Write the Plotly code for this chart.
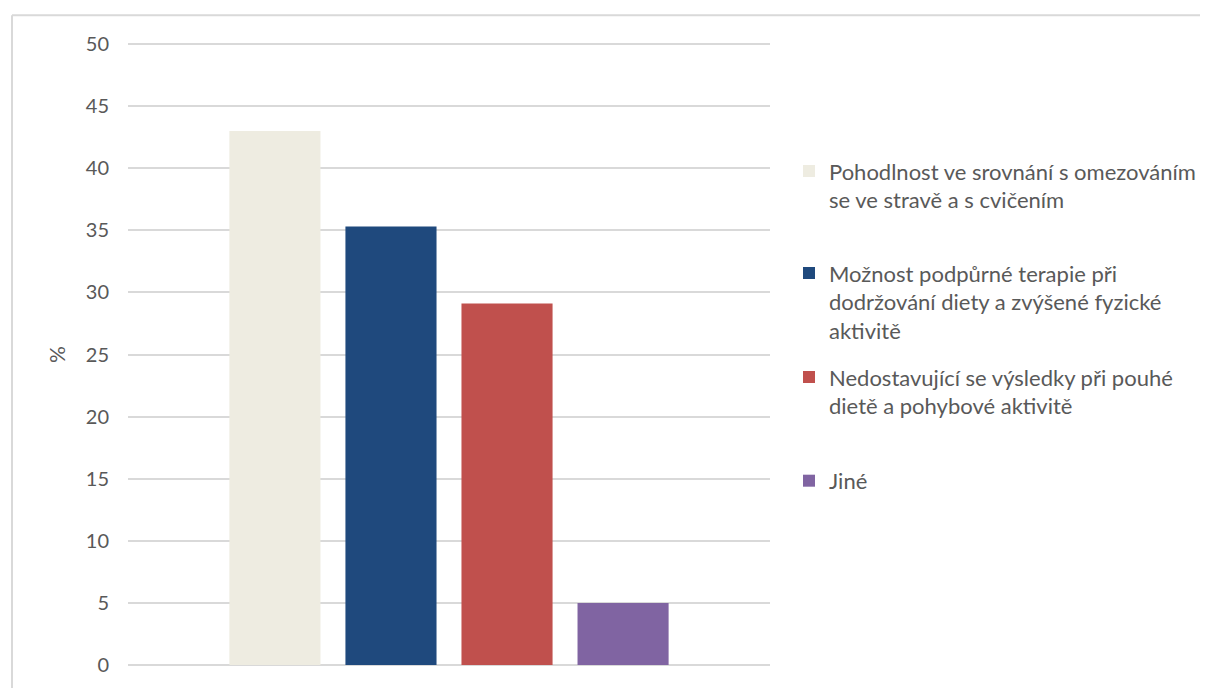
import plotly.graph_objects as go

categories = [""]
series_names = [
    "Pohodlnost ve srovnání s omezováním<br>se ve stravě a s cvičením",
    "Možnost podpůrné terapie při<br>dodržování diety a zvýšené fyzické<br>aktivitě",
    "Nedostavující se výsledky při pouhé<br>dietě a pohybové aktivitě",
    "Jiné",
]
series_values = [43.0, 35.3, 29.1, 5.0]
series_colors = ["#EEECE1", "#1F497D", "#C0504D", "#8064A2"]
y_ticks = [0, 5, 10, 15, 20, 25, 30, 35, 40, 45, 50]

FONT = "Lato, 'Open Sans', sans-serif"
TXT = "#595959"

# page body has an 8px margin; work in reference pixel coords, then shift
OFF = 8
W, H = 1208, 688 - OFF
PX = 624 / 50.0           # pixels per unit
PAD = 2                   # px of padding so edge gridlines are drawn
L, R = 128 - OFF, 770 - OFF
T, B = 44 - OFF - PAD, 668 - OFF + PAD
PH = B - T
PW = R - L

def fy(ref_y):
    return ((B + OFF) - ref_y) / PH

def fx(ref_x):
    return (ref_x - (L + OFF)) / PW

legend_centers = [186.5, 303, 393.5, 483]
legend_ids = ["legend", "legend2", "legend3", "legend4"]

fig = go.Figure()
for name, val, col, lid in zip(series_names, series_values, series_colors, legend_ids):
    fig.add_trace(go.Bar(
        x=categories, y=[val], name=name,
        marker=dict(color=col, line=dict(width=0)),
        legend=lid,
    ))

legend_common = dict(
    xanchor="left", x=fx(789), yanchor="middle", valign="top",
    font=dict(size=22, color=TXT, family=FONT),
    itemwidth=30, bgcolor="rgba(0,0,0,0)",
)

layout_legends = {}
for lid, c in zip(legend_ids, legend_centers):
    layout_legends[lid] = dict(legend_common, y=fy(c))

fig.update_layout(
    width=W, height=H,
    margin=dict(l=L, r=W - R, t=T, b=H - B, pad=0),
    paper_bgcolor="white", plot_bgcolor="white",
    barmode="group", bargap=0.277, bargroupgap=0.215,
    font=dict(family=FONT, color=TXT, size=20),
    showlegend=True,
    xaxis=dict(showticklabels=False, showgrid=False, zeroline=False, showline=False, ticks=""),
    yaxis=dict(
        range=[-PAD / PX, 50 + PAD / PX], tickvals=y_ticks, showgrid=True,
        gridcolor="#D9D9D9", gridwidth=1.6,
        zeroline=False, showline=False, ticks="",
        tickfont=dict(size=20, color=TXT, family=FONT),
        ticklabelstandoff=18,
        title=dict(text="%", font=dict(size=21, color=TXT, family=FONT), standoff=14),
    ),
    shapes=[
        dict(type="line", xref="paper", yref="paper",
             x0=fx(12), x1=fx(1400), y0=fy(15), y1=fy(15),
             line=dict(color="#D9D9D9", width=2)),
        dict(type="line", xref="paper", yref="paper",
             x0=fx(12), x1=fx(12), y0=fy(15), y1=fy(900),
             line=dict(color="#D9D9D9", width=2)),
    ],
    **layout_legends,
)

fig.write_html("out.html")
